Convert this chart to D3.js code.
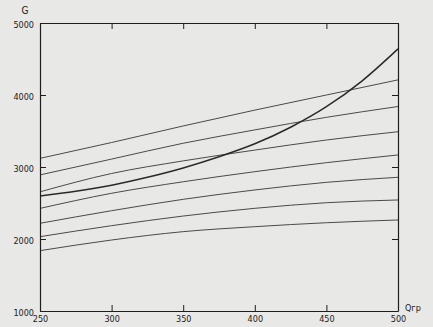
<!DOCTYPE html>
<html>
<head>
<meta charset="utf-8">
<script src="https://cdn.jsdelivr.net/npm/d3@7"></script>
<style>
  html, body { margin: 0; padding: 0; background: #e8e8e6; }
  svg text { font-family: "DejaVu Sans Condensed", "DejaVu Sans", sans-serif; fill: #222; }
</style>
</head>
<body>
<div id="target_div"></div>
<script>
// values
var q_values = [250, 300, 350, 400, 450, 500];
var line1 = [3120, 3340, 3570, 3790, 4000, 4210];
var line2 = [2890, 3110, 3330, 3515, 3690, 3840];
var line3 = [2655, 2910, 3085, 3235, 3375, 3490];
var line4 = [2425, 2635, 2795, 2935, 3060, 3167];
var line5 = [2218, 2393, 2551, 2681, 2787, 2857];
var line6 = [2032, 2185, 2319, 2426, 2504, 2542];
var line7 = [1838, 1986, 2102, 2171, 2226, 2264];

var curve_q = [250, 275, 300, 325, 350, 375, 400, 425, 450, 475, 500];
var curve_g = [2597, 2662, 2747, 2857, 2987, 3142, 3322, 3552, 3837, 4197, 4640];

var x_ticks = [250, 300, 350, 400, 450, 500];
var y_ticks = [1000, 2000, 3000, 4000, 5000];

var W = 433, H = 327;
var plot = {left: 40, right: 398, top: 23, bottom: 311};
var tick_len = 6; // inward ticks

var svg = d3.select('#target_div')
  .append('svg')
  .attr('width', W)
  .attr('height', H);

var mapX = d3.scaleLinear().domain([250, 500]).range([plot.left, plot.right]);
var mapY = d3.scaleLinear().domain([1000, 5000]).range([plot.bottom, plot.top]);

var lineGen = d3.line()
  .x(d => mapX(d[0]))
  .y(d => mapY(d[1]))
  .curve(d3.curveMonotoneX);

// family of straight-ish lines
var lines = [line1, line2, line3, line4, line5, line6, line7];
lines.forEach(function (vals) {
  svg.append('path')
    .attr('d', lineGen(q_values.map((q, i) => [q, vals[i]])))
    .style('fill', 'none')
    .style('stroke', '#4a4a4a')
    .style('stroke-width', 1);
});

// the rising curve
svg.append('path')
  .attr('d', lineGen(curve_q.map((q, i) => [q, curve_g[i]])))
  .style('fill', 'none')
  .style('stroke', '#2a2a2a')
  .style('stroke-width', 1.5);

// axes, ticks pointing inside the frame
var fmt = d3.format('d');
var xAxis = d3.axisBottom(mapX).tickValues(x_ticks).tickFormat(fmt)
  .tickSizeInner(-tick_len).tickSizeOuter(0).tickPadding(6);
var yAxis = d3.axisLeft(mapY).tickValues(y_ticks).tickFormat(fmt)
  .tickSizeInner(-tick_len).tickSizeOuter(0).tickPadding(6);
var xTop = d3.axisTop(mapX).tickValues(x_ticks).tickFormat('')
  .tickSizeInner(-tick_len).tickSizeOuter(0);
var yRight = d3.axisRight(mapY).tickValues(y_ticks).tickFormat('')
  .tickSizeInner(-tick_len).tickSizeOuter(0);

var gx = svg.append('g').attr('transform', `translate(0, ${plot.bottom})`).call(xAxis);
var gy = svg.append('g').attr('transform', `translate(${plot.left}, 0)`).call(yAxis);
var gt = svg.append('g').attr('transform', `translate(0, ${plot.top})`).call(xTop);
var gr = svg.append('g').attr('transform', `translate(${plot.right}, 0)`).call(yRight);

[gx, gy, gt, gr].forEach(function (g) {
  g.selectAll('path.domain').style('stroke', '#1e1e1e').style('stroke-width', 1.2);
  g.selectAll('.tick line').style('stroke', '#1e1e1e');
  g.selectAll('text').style('font-size', '9px').style('fill', '#222');
});
gy.selectAll('text').attr('dy', '0.55em');
gx.selectAll('text').attr('dy', '0.6em');

// axis names
svg.append('text')
  .attr('x', 25)
  .attr('y', 14)
  .attr('text-anchor', 'middle')
  .style('font-size', '10px')
  .text('G');

svg.append('text')
  .attr('x', 405)
  .attr('y', 311)
  .attr('text-anchor', 'start')
  .style('font-size', '9px')
  .text('Qгр');
</script>
</body>
</html>
